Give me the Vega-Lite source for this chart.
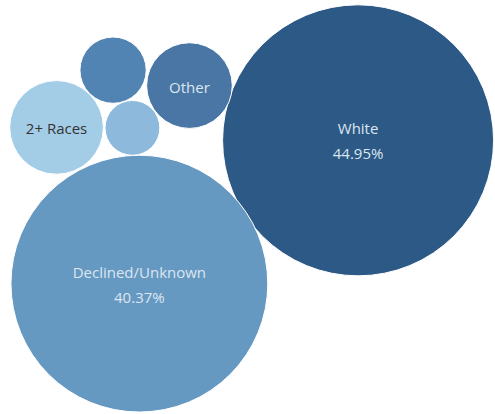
{
  "$schema": "https://vega.github.io/schema/vega-lite/v6.json",
  "width": 495,
  "height": 414,
  "padding": 0,
  "autosize": {"type": "fit", "contains": "padding"},
  "config": {"view": {"stroke": null}},
  "data": {
    "values": [
      {"race": "White", "share": 0.4495, "px": 361, "py": 141},
      {"race": "Declined/Unknown", "share": 0.4037, "px": 140.5, "py": 285},
      {"race": "2+ Races", "share": 0.0537, "px": 57, "py": 128},
      {"race": "Other", "share": 0.0449, "px": 191, "py": 86},
      {"race": "Asian", "share": 0.0269, "px": 114, "py": 70.5},
      {"race": "Black", "share": 0.0184, "px": 133.5, "py": 128.5}
    ]
  },
  "encoding": {
    "x": {"field": "px", "type": "quantitative", "scale": {"domain": [0, 495], "nice": false, "zero": false}, "axis": null},
    "y": {"field": "py", "type": "quantitative", "scale": {"domain": [0, 414], "reverse": true, "nice": false, "zero": false}, "axis": null}
  },
  "layer": [
    {
      "mark": {"type": "circle", "opacity": 1, "stroke": "white", "strokeWidth": 1},
      "encoding": {
        "size": {"field": "share", "type": "quantitative", "scale": {"type": "linear", "domain": [0, 0.4495], "range": [0, 73440], "zero": true}, "legend": null},
        "color": {"field": "race", "type": "nominal", "legend": null,
          "scale": {"domain": ["White", "Declined/Unknown", "2+ Races", "Other", "Asian", "Black"],
                    "range": ["#2c5985", "#6699c2", "#a3cce6", "#4a76a5", "#5284b3", "#8cb9dc"]}}
      }
    },
    {
      "transform": [{"filter": "datum.share > 0.3"}],
      "mark": {"type": "text", "font": "Open Sans", "fontSize": 15, "color": "#dce6f0", "dy": -11, "baseline": "middle"},
      "encoding": {"text": {"field": "race"}}
    },
    {
      "transform": [{"filter": "datum.share > 0.3"}],
      "mark": {"type": "text", "font": "Open Sans", "fontSize": 15, "color": "#dce6f0", "dy": 14, "baseline": "middle"},
      "encoding": {"text": {"field": "share", "type": "quantitative", "format": ".2%"}}
    },
    {
      "transform": [{"filter": "datum.race == 'Other'"}],
      "mark": {"type": "text", "font": "Open Sans", "fontSize": 15, "color": "#dce6f0", "dy": 2, "baseline": "middle"},
      "encoding": {"text": {"field": "race"}}
    },
    {
      "transform": [{"filter": "datum.race == '2+ Races'"}],
      "mark": {"type": "text", "font": "Open Sans", "fontSize": 15, "color": "#333333", "dy": 2, "baseline": "middle"},
      "encoding": {"text": {"field": "race"}}
    }
  ]
}
